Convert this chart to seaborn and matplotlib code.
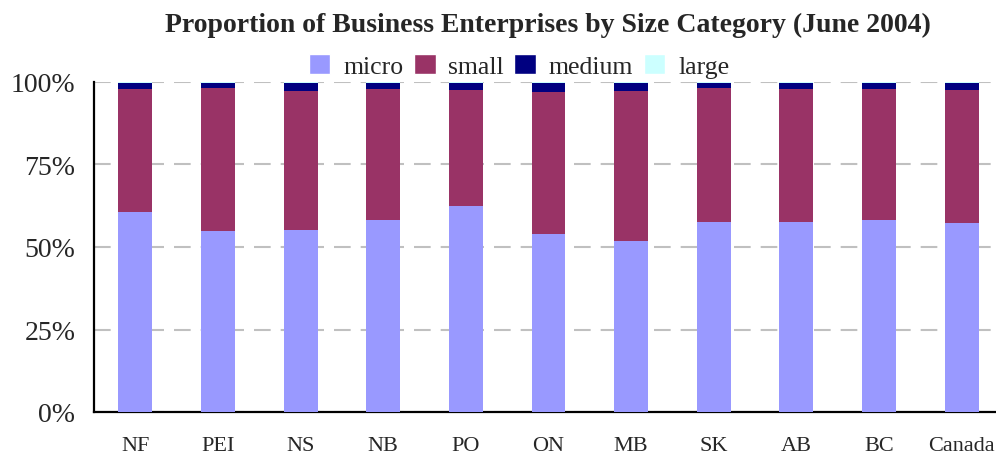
import numpy as np
import pandas as pd
import matplotlib
matplotlib.use('Agg')
import matplotlib.pyplot as plt
import seaborn as sns
from matplotlib.patches import Patch
from matplotlib.ticker import PercentFormatter

# 数据（从图中读出的百分比）
regions = ['NF', 'PEI', 'NS', 'NB', 'PO', 'ON', 'MB', 'SK', 'AB', 'BC', 'Canada']
micro = [60.6, 54.8, 55.2, 58.2, 62.4, 53.9, 51.8, 57.6, 57.6, 58.2, 57.3]
small = [37.3, 43.4, 42.1, 39.7, 35.2, 43.1, 45.5, 40.6, 40.3, 39.7, 40.3]
medium = [1.9, 1.6, 2.5, 1.9, 2.2, 2.8, 2.5, 1.6, 1.9, 1.9, 2.2]
large = [0.2, 0.2, 0.2, 0.2, 0.2, 0.2, 0.2, 0.2, 0.2, 0.2, 0.2]

colors = {'micro': '#9999FF', 'small': '#993366', 'medium': '#000080', 'large': '#CCFFFF'}

sns.set_style('white')
plt.rcParams['font.family'] = ['Liberation Serif', 'DejaVu Serif']

df = pd.DataFrame({'region': regions, 'micro': micro, 'small': small,
                   'medium': medium, 'large': large})
# 累计高度，从上往下画
df['c_large'] = df[['micro', 'small', 'medium', 'large']].sum(axis=1)
df['c_medium'] = df[['micro', 'small', 'medium']].sum(axis=1)
df['c_small'] = df[['micro', 'small']].sum(axis=1)
df['c_micro'] = df['micro']

fig = plt.figure(figsize=(9.96, 4.56), dpi=100)
ax = fig.add_axes([94 / 996, 43 / 456, 909 / 996, 330 / 456])

for layer in ['large', 'medium', 'small', 'micro']:
    sns.barplot(data=df, x='region', y='c_' + layer, color=colors[layer],
                width=0.41, saturation=1, ax=ax, zorder=3, linewidth=0)

ax.set_xlim(-0.5, 10.5)
ax.set_ylim(0, 100)
ax.set_yticks([0, 25, 50, 75, 100])
ax.yaxis.set_major_formatter(PercentFormatter(decimals=0))
ax.set_xlabel('')
ax.set_ylabel('')
ax.yaxis.grid(True, color='#C0C0C0', linewidth=1.5, linestyle=(0, (8, 4.8)), zorder=0)
ax.set_axisbelow(True)
ax.tick_params(axis='y', labelsize=20, length=3, color='#C0C0C0', pad=10.5)
ax.tick_params(axis='x', labelsize=16, length=0, pad=17)
for s in ['top', 'right']:
    ax.spines[s].set_visible(False)
for s in ['left', 'bottom']:
    ax.spines[s].set_color('black')
    ax.spines[s].set_linewidth(1.6)

fig.suptitle('Proportion of Business Enterprises by Size Category (June 2004)',
             x=548 / 996, y=1 - 25 / 456, va='center', fontsize=20, fontweight='bold')

handles = [Patch(facecolor=colors[k], label=k) for k in ['micro', 'small', 'medium', 'large']]
fig.legend(handles=handles, loc='center', bbox_to_anchor=(519 / 996, 1 - 67 / 456),
           ncol=4, frameon=False, fontsize=18.5, handlelength=0.85, handleheight=0.85,
           handletextpad=0.5, columnspacing=0.4, borderpad=0)

fig.savefig('out.png', dpi=100)
